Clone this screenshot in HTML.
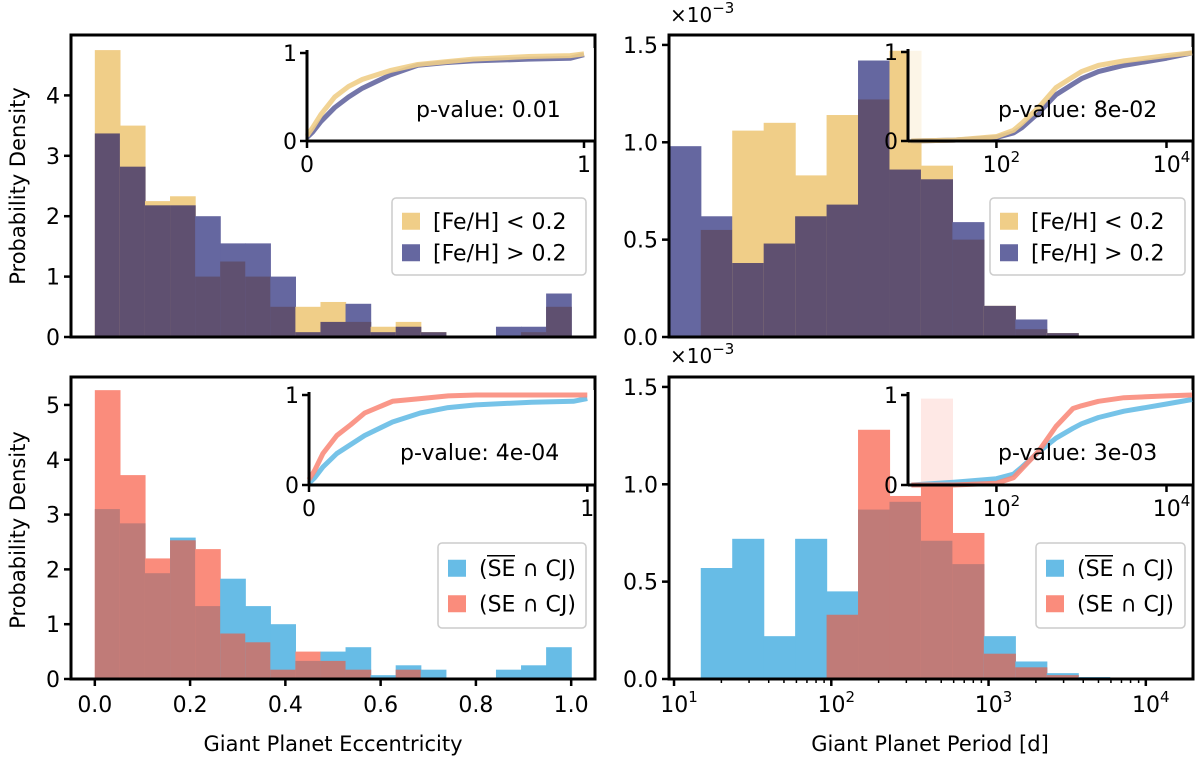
<!DOCTYPE html>
<html><head><meta charset="utf-8"><style>
html,body{margin:0;padding:0;background:#fff;}
svg{display:block;font-family:"DejaVu Sans","Liberation Sans",sans-serif;}
</style></head><body>
<svg id="chart" width="1200" height="762" viewBox="0 0 1200 762" xmlns="http://www.w3.org/2000/svg"></svg>
<script>
// ---------- data ----------
const eccBinCount = 19;
const eccFeLow  = [4.75,3.5,2.25,2.33,1.0,1.25,1.0,0.5,0.5,0.58,0.25,0.17,0.25,0.08,0,0,0,0.08,0.5];
const eccFeHigh = [3.37,2.82,2.18,2.18,2.0,1.55,1.55,1.0,0.08,0.25,0.55,0.08,0.17,0.08,0,0,0.17,0.17,0.72];
const eccNoSE   = [3.1,2.84,1.93,2.58,1.33,1.83,1.33,1.0,0.33,0.5,0.58,0.07,0.25,0.17,0,0,0.17,0.25,0.58];
const eccSE     = [5.27,3.72,2.2,2.53,2.37,0.83,0.67,0.17,0.5,0.33,0.17,0,0.17,0,0,0,0,0,0];
const perLogStart = 0.97, perLogStep = 0.2;
const perFeLow  = [0,0.55,1.06,1.1,0.83,1.14,1.22,1.47,0.88,0.5,0.16,0.04,0.02,0];
const perFeHigh = [0.98,0.62,0.38,0.48,0.62,0.68,1.42,0.86,0.81,0.59,0.16,0.09,0.02,0.005];
const perNoSE   = [0,0.57,0.72,0.22,0.72,0.45,0.87,0.91,0.71,0.59,0.22,0.09,0.03,0.01,0.003];
const perSE     = [0,0,0,0,0,0.33,1.28,0.94,1.44,0.75,0.13,0.06,0.02,0,0];
// CDF insets
const cdfEccX      = [0,0.02,0.05,0.1,0.15,0.2,0.3,0.4,0.5,0.6,0.8,0.95,1.0];
const cdfEccFeLow  = [0.06,0.15,0.3,0.5,0.62,0.7,0.8,0.87,0.9,0.93,0.96,0.97,0.99];
const cdfEccFeHigh = [0.04,0.1,0.22,0.38,0.5,0.6,0.75,0.86,0.89,0.91,0.93,0.94,0.98];
const cdfEccNoSE   = [0.02,0.08,0.2,0.35,0.45,0.55,0.7,0.8,0.86,0.89,0.92,0.93,0.96];
const cdfEccSE     = [0.06,0.16,0.35,0.55,0.67,0.8,0.93,0.96,0.99,1.0,1.0,1.0,1.0];
const cdfPerX      = [1,1.5,2,2.2,2.3,2.5,2.7,2.9,3,3.2,3.5,4,4.3];
const cdfPerFeLow  = [0,0.01,0.05,0.12,0.2,0.38,0.6,0.72,0.78,0.85,0.9,0.96,0.99];
const cdfPerFeHigh = [0,0.01,0.04,0.09,0.15,0.32,0.52,0.64,0.7,0.78,0.85,0.93,0.99];
const cdfPerNoSE   = [0,0.03,0.07,0.12,0.2,0.37,0.52,0.63,0.68,0.75,0.82,0.9,0.95];
const cdfPerSE     = [0,0,0.02,0.08,0.18,0.38,0.65,0.85,0.88,0.93,0.97,0.99,1.0];
const eccTicks = ["0.0","0.2","0.4","0.6","0.8","1.0"];
const eccYTicksTop = ["0","1","2","3","4"];
const eccYTicksBot = ["0","1","2","3","4","5"];
const perYTicks = ["0.0","0.5","1.0","1.5"];

const YEL="#f0ce88", PUR="#6567a0", DPUR="#5f5070";
const SKY="#67bce6", SAL="#fa8c7c", DSAL="#c07b78";
const FS=22;
const svg=document.getElementById('chart');
const NS="http://www.w3.org/2000/svg";
function mk(tag,attrs,parent){const e=document.createElementNS(NS,tag);for(const k in attrs)e.setAttribute(k,attrs[k]);(parent||svg).appendChild(e);return e;}

function panel(o){
  const g=mk('g',{});
  
  
  const X=v=>o.x0+(v-o.xmin)/(o.xmax-o.xmin)*(o.x1-o.x0);
  const Y=v=>o.y1-(v/o.ymax)*(o.y1-o.y0);
  o.a.forEach((va,i)=>{
    const vb=o.b[i];
    const l=o.edge(i), r=o.edge(i+1);
    const hi=Math.max(va,vb), lo=Math.min(va,vb);
    const w=X(r)-X(l)+0.6;
    if(hi>0){const rc=mk('rect',{x:X(l),y:Y(hi),width:w,height:Y(0)-Y(hi),fill:va>=vb?o.ca:o.cb},g);
      
      }
    if(lo>0){const rc=mk('rect',{x:X(l),y:Y(lo),width:w,height:Y(0)-Y(lo),fill:o.cd},g);
      
      }
  });
  o.yt.forEach((t,i)=>{const y=Y(parseFloat(t));
    mk('line',{x1:o.x0-7,x2:o.x0,y1:y,y2:y,stroke:'#000','stroke-width':2.5},g);
    const tx=mk('text',{x:o.x0-11,y:y+8,'text-anchor':'end','font-size':FS},g);tx.textContent=t;
    
    });
  const sp=mk('rect',{x:o.x0,y:o.y0,width:o.x1-o.x0,height:o.y1-o.y0,fill:'none',stroke:'#000','stroke-width':3},g);
  
  
  return {g,X,Y};
}

function inset(o){
  const g=mk('g',{});
  
  
  mk('rect',{x:o.x0,y:o.y0-4,width:o.x1-o.x0,height:o.y1-o.y0+4,fill:'#fff','fill-opacity':0.8},g);
  const X=v=>o.x0+(v-o.xmin)/(o.xmax-o.xmin)*(o.x1-o.x0);
  const Y=v=>o.y1-v*(o.y1-o.y0-1);
  [[o.sb,o.cb],[o.sa,o.ca]].forEach(([s,c],k)=>{
    let d='';
    o.xs.forEach((xv,i)=>{d+=(i===0?'M':' L')+X(xv)+','+Y(s[i]);});
    const p=mk('path',{d:d,fill:'none',stroke:c,'stroke-width':5,'stroke-opacity':0.9,'stroke-linejoin':'round'},g);
    
    
  });
  mk('line',{x1:o.x0,x2:o.x0,y1:o.y0-2,y2:o.y1,stroke:'#000','stroke-width':3},g);
  mk('line',{x1:o.x0,x2:o.x1,y1:o.y1,y2:o.y1,stroke:'#000','stroke-width':3},g);
  [[0,'0'],[1,'1']].forEach(([v,t])=>{const y=Y(v);
    mk('line',{x1:o.x0-7,x2:o.x0,y1:y,y2:y,stroke:'#000','stroke-width':2.5},g);
    const tx=mk('text',{x:o.x0-10,y:y+8,'text-anchor':'end','font-size':FS},g);tx.textContent=t;});
  o.xt.forEach(([v,t,sup])=>{const x=X(v);
    mk('line',{x1:x,x2:x,y1:o.y1,y2:o.y1+7,stroke:'#000','stroke-width':2.5},g);
    const tx=mk('text',{x:sup?x+5:x,y:o.y1+31,'text-anchor':'middle','font-size':FS},g);tx.textContent=t;
    if(sup){const ts=mk('tspan',{dy:-10,'font-size':15},tx);ts.textContent=sup;}});
  const pv=mk('text',{x:o.px,y:o.py,'font-size':FS},g);pv.textContent=o.ptext;
  
  
}

function legend(x,y,w,h,items,name){
  const g=mk('g',{});
  
  
  mk('rect',{x:x,y:y,width:w,height:h,rx:4,fill:'#fff','fill-opacity':0.8,stroke:'#ccc','stroke-width':1.5},g);
  const step=(h-14)/2;
  items.forEach((it,i)=>{const cy=y+7+step/2+i*step;
    const sw=mk('rect',{x:x+10,y:cy-8,width:18,height:17,fill:it[0]},g);
    
    
    const t=mk('text',{x:x+41,y:cy+8,'font-size':FS},g);
    if(it[2]){t.appendChild(document.createTextNode('('));
      const ts=mk('tspan',{},t);ts.textContent='SE';
      t.appendChild(document.createTextNode(' ∩ CJ)'));
      mk('line',{x1:x+49,x2:x+77,y1:cy-12,y2:cy-12,stroke:'#000','stroke-width':1.5},g);
    } else t.textContent=it[1];
    
    });
}

const eccEdge=i=>i/eccBinCount;
const perEdge=i=>perLogStart+i*perLogStep;

panel({name:'ecc-feh-panel',x0:71,x1:595,y0:35,y1:337,xmin:-0.05,xmax:1.05,ymax:5.0,a:eccFeLow,b:eccFeHigh,ca:YEL,cb:PUR,cd:DPUR,edge:eccEdge,yt:eccYTicksTop});
inset({name:'ecc-feh-cdf-inset',x0:307,x1:594,y0:52,y1:141,xmin:0,xmax:1.0361,xs:cdfEccX,sa:cdfEccFeLow,sb:cdfEccFeHigh,ca:YEL,cb:PUR,xt:[[0,'0'],[1,'1']],px:416,py:117,ptext:'p-value: 0.01'});
legend(392,198,194,77,[[YEL,'[Fe/H] < 0.2'],[PUR,'[Fe/H] > 0.2']],'legend-ecc-feh');

const bl=panel({name:'ecc-se-panel',x0:71,x1:595,y0:377,y1:679,xmin:-0.05,xmax:1.05,ymax:5.51,a:eccNoSE,b:eccSE,ca:SKY,cb:SAL,cd:DSAL,edge:eccEdge,yt:eccYTicksBot});
eccTicks.forEach(t=>{const x=bl.X(parseFloat(t));
  mk('line',{x1:x,x2:x,y1:679,y2:686,stroke:'#000','stroke-width':2.5});
  const tx=mk('text',{x:x,y:712,'text-anchor':'middle','font-size':FS});tx.textContent=t;
  
  });
inset({name:'ecc-se-cdf-inset',x0:309,x1:594,y0:394,y1:485,xmin:0,xmax:1.0241,xs:cdfEccX,sa:cdfEccSE,sb:cdfEccNoSE,ca:SAL,cb:SKY,xt:[[0,'0'],[1,'1']],px:400,py:460,ptext:'p-value: 4e-04'});
legend(438,543,148,85,[[SKY,'',true],[SAL,'(SE ∩ CJ)']],'legend-ecc-se');

panel({name:'period-feh-panel',x0:669,x1:1193,y0:35,y1:337,xmin:0.968,xmax:4.30,ymax:1.551,a:perFeLow,b:perFeHigh,ca:YEL,cb:PUR,cd:DPUR,edge:perEdge,yt:perYTicks});
inset({name:'period-feh-cdf-inset',x0:908,x1:1192,y0:51,y1:141,xmin:0.96,xmax:4.30,xs:cdfPerX,sa:cdfPerFeLow,sb:cdfPerFeHigh,ca:YEL,cb:PUR,xt:[[2,'10','2'],[4,'10','4']],px:998,py:117,ptext:'p-value: 8e-02'});
legend(990,198,195,77,[[YEL,'[Fe/H] < 0.2'],[PUR,'[Fe/H] > 0.2']],'legend-period-feh');

const br=panel({name:'period-se-panel',x0:669,x1:1193,y0:377,y1:679,xmin:0.968,xmax:4.30,ymax:1.551,a:perNoSE,b:perSE,ca:SKY,cb:SAL,cd:DSAL,edge:perEdge,yt:perYTicks});
for(let d=1;d<=4;d++){
  const x=br.X(d);
  mk('line',{x1:x,x2:x,y1:679,y2:686,stroke:'#000','stroke-width':2.5});
  const tx=mk('text',{x:x+5,y:712,'text-anchor':'middle','font-size':FS});tx.textContent='10';
  const ts=mk('tspan',{dy:-10,'font-size':15},tx);ts.textContent=String(d);
  
  
  for(let m=2;m<=9;m++){const lx=br.X(d+Math.log10(m));if(lx<1193)mk('line',{x1:lx,x2:lx,y1:679,y2:683,stroke:'#000','stroke-width':1.5});}
}
inset({name:'period-se-cdf-inset',x0:908,x1:1192,y0:394,y1:485,xmin:0.96,xmax:4.30,xs:cdfPerX,sa:cdfPerSE,sb:cdfPerNoSE,ca:SAL,cb:SKY,xt:[[2,'10','2'],[4,'10','4']],px:998,py:460,ptext:'p-value: 3e-03'});
legend(1036,543,149,85,[[SKY,'',true],[SAL,'(SE ∩ CJ)']],'legend-period-se');

function txt(x,y,s,size,extra,name){const t=mk('text',Object.assign({x:x,y:y,'font-size':size,'text-anchor':'middle'},extra||{}));t.textContent=s;
  
  return t;}
txt(25,186,'Probability Density',21,{transform:'rotate(-90 25 186)'},'y-axis-title-top');
txt(25,530,'Probability Density',21,{transform:'rotate(-90 25 530)'},'y-axis-title-bottom');
txt(333,751,'Giant Planet Eccentricity',21,{},'x-axis-title-eccentricity');
txt(930,751,'Giant Planet Period [d]',21,{},'x-axis-title-period');
[[22,'offset-label-top'],[363,'offset-label-bottom']].forEach(([y,n])=>{
  const t=mk('text',{x:670,y:y,'font-size':20});t.textContent='×10';
  const ts=mk('tspan',{dy:-9,'font-size':15},t);ts.textContent='−3';
  
  });
</script>
</body></html>
